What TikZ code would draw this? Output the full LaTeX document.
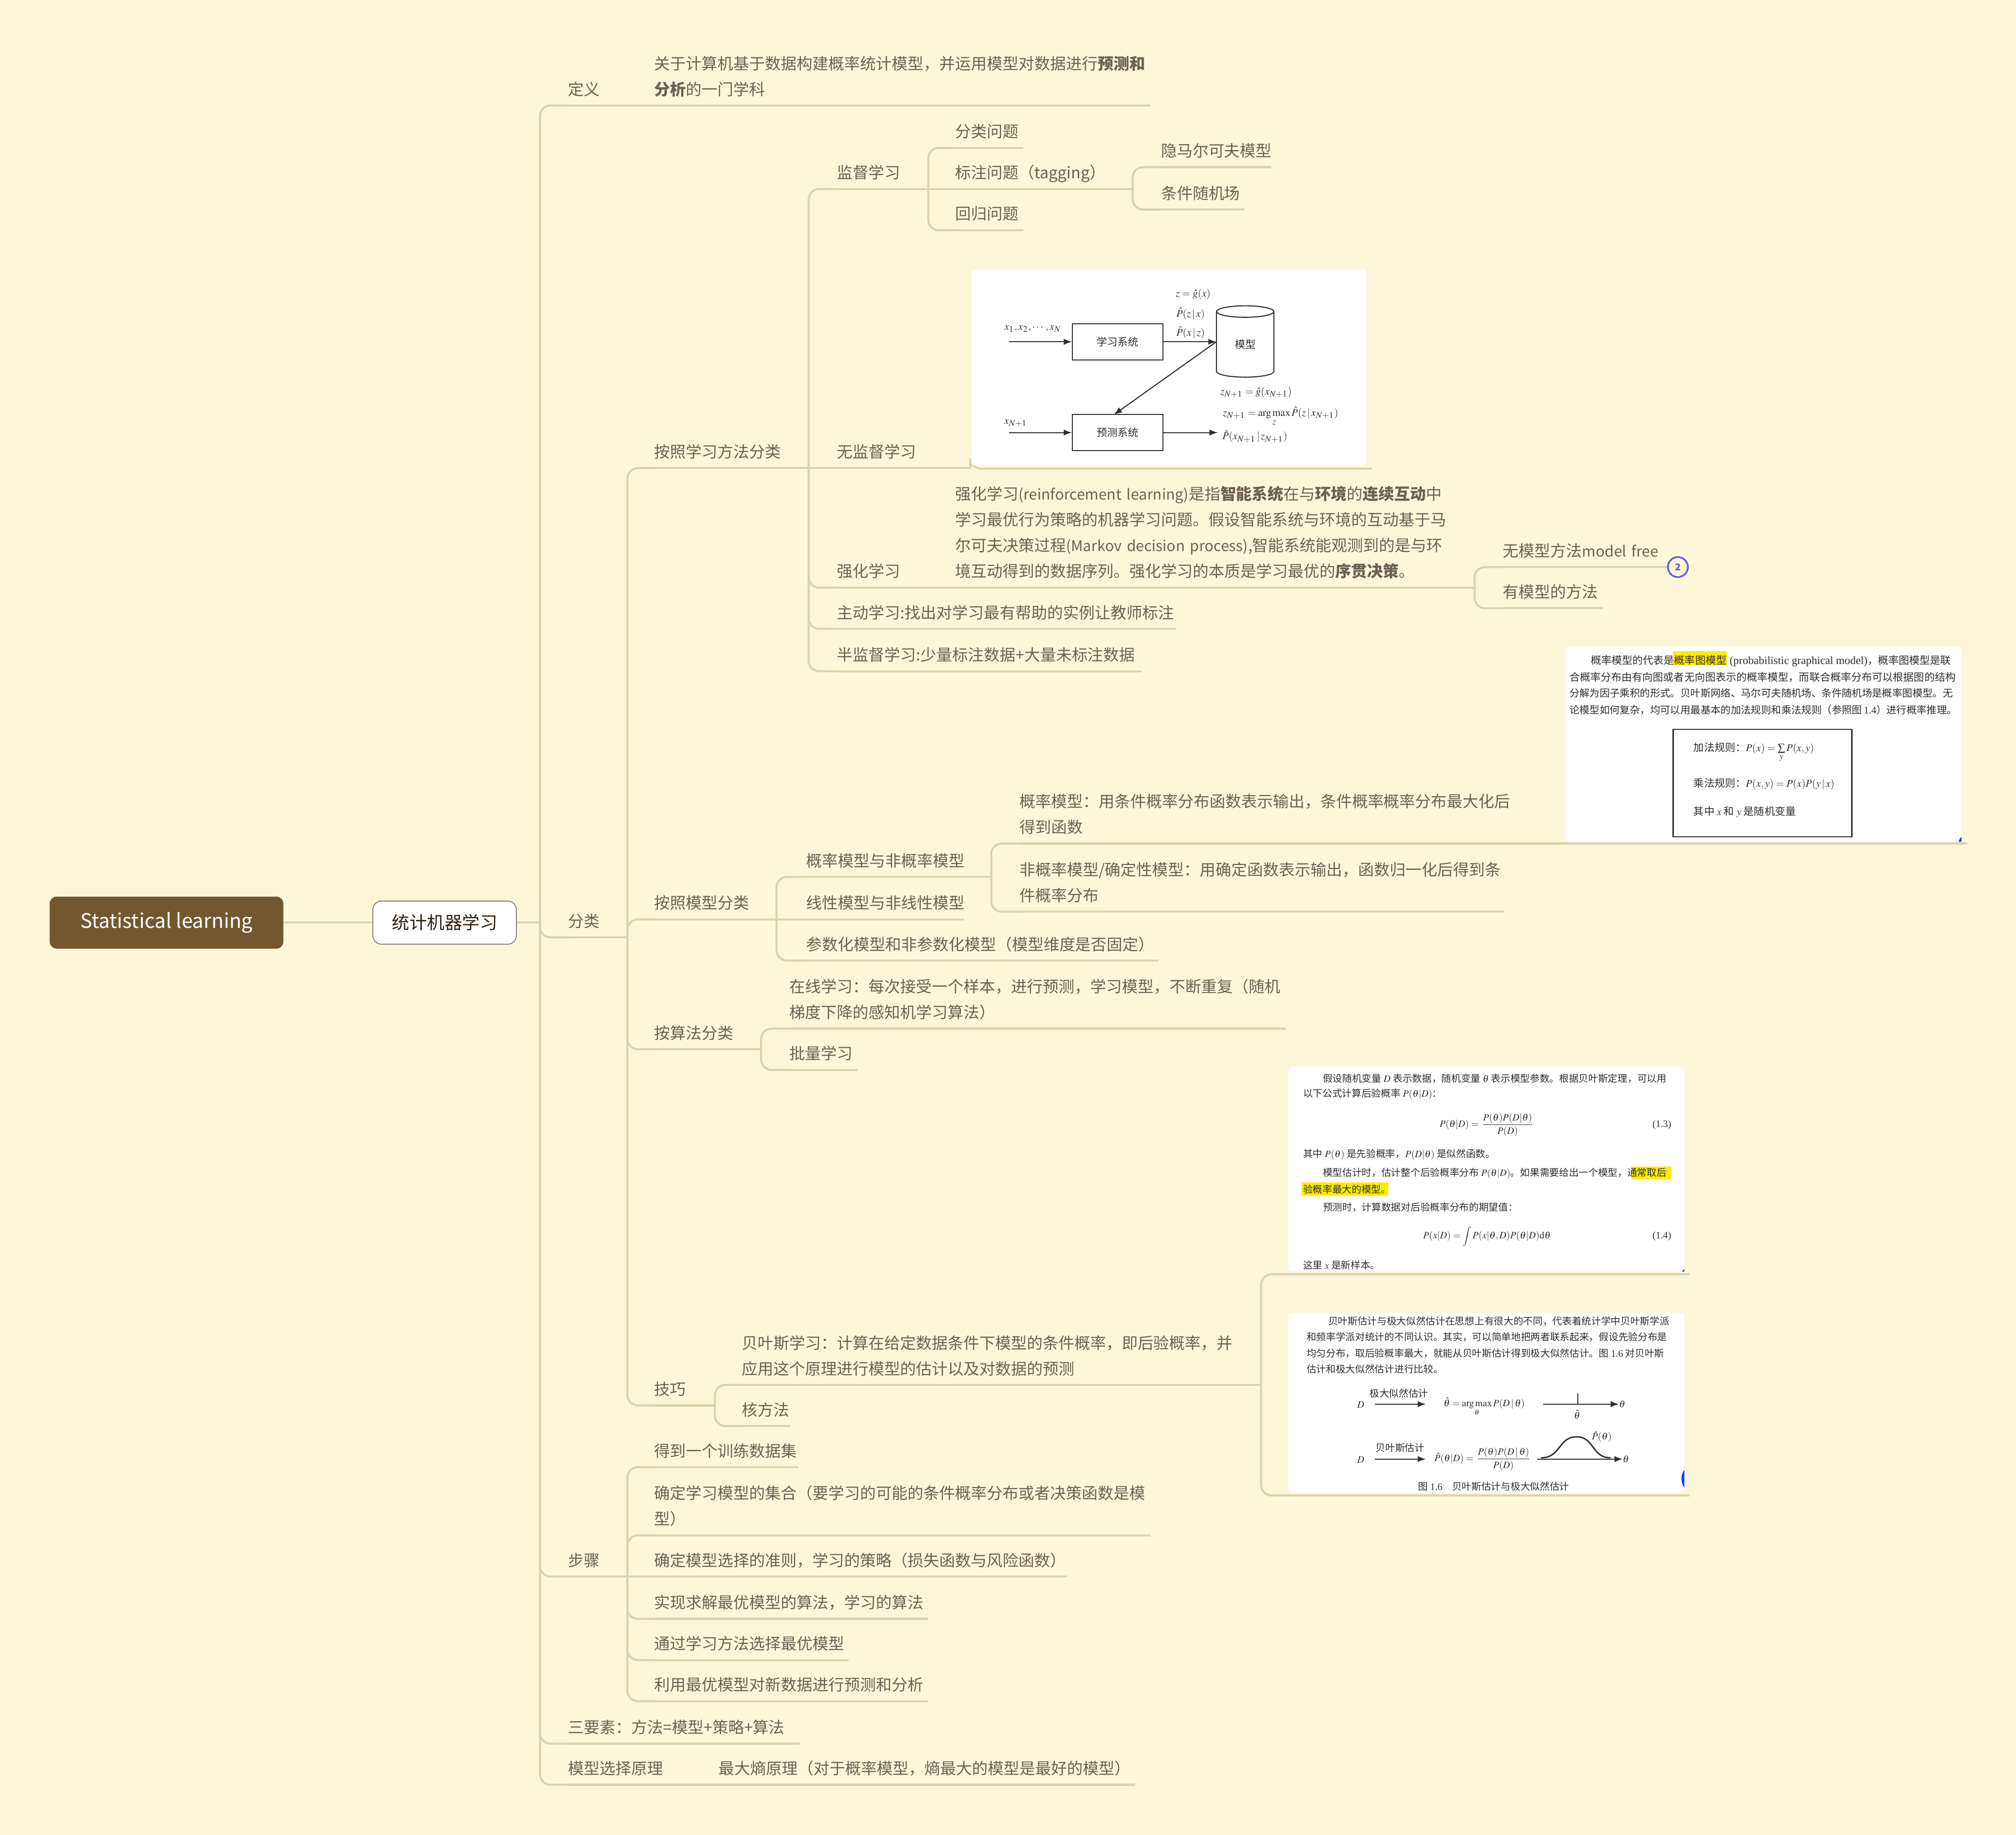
\documentclass[tikz,border=0pt]{standalone}
\usepackage{amsmath}
\usepackage{mathptmx}
\usepackage[no-math]{fontspec}
\setmainfont{Noto Sans CJK SC}
\newfontfamily\scanlatin{Liberation Serif}
\usetikzlibrary{shapes.geometric}
\tikzset{>=latex}
\definecolor{paper}{HTML}{FDF7DA}
\definecolor{branch}{HTML}{DDD3AE}
\definecolor{ink}{HTML}{6E6052}
\definecolor{rootfill}{HTML}{725730}
\definecolor{scanink}{HTML}{2E2E2E}
\definecolor{marker}{HTML}{FFEB00}
\definecolor{badgeblue}{HTML}{5F63E3}
\tikzstyle{link} = [draw=branch, line width=1.2pt, rounded corners=6pt]
\tikzstyle{topic} = [anchor=south west, inner xsep=0pt, inner ysep=1.5pt, outer sep=0pt, align=left, text=ink, font=\fontsize{9.1}{14.8}\selectfont]
\tikzstyle{inset} = [fill=white, rounded corners=2pt, inner sep=0pt]
\tikzstyle{scan} = [anchor=west, inner sep=0pt, text=scanink, font=\fontsize{6}{8}\selectfont]
\tikzstyle{scanmid} = [scan, anchor=center]
\tikzstyle{fine} = [scan, font=\fontsize{5.6}{8}\selectfont]
\tikzstyle{finemid} = [fine, anchor=center]
\tikzstyle{scanbox} = [draw=scanink, line width=0.6pt, inner sep=0pt, text=scanink, font=\fontsize{6}{8}\selectfont]
\tikzstyle{scanline} = [draw=scanink, line width=0.6pt, ->]
\newcommand{\topic}[5]{
\node[topic, text width={(#4-#2)*0.7387pt}] (#1) at (#2,#3) {#5\strut};
\draw[link] (#1.south west) -- (#1.south east);
}
\newcommand{\branch}[2]{
\draw[link] (#1.south east) |- (#2.south west);
}
\newcommand{\follow}[2]{
\draw[link] (#1.south east) -- (#2.south west);
}
\newcommand{\slim}[2]{{\fontsize{#1}{14.8}\selectfont #2}}
\newcommand{\corner}[4]{
\begin{scope}
\clip (#1) rectangle (#2);
\fill[blue!75!cyan] (#3) circle (#4);
\end{scope}
}

\begin{document}
\begin{tikzpicture}[x=0.02597cm, y=-0.02597cm]
	\useasboundingbox (0,0) rectangle (1568,1427);
	\fill[paper] (0,0) rectangle (1568,1427);
	
	% Centre
	\node[fill=rootfill, text=white, rounded corners=4pt, minimum width=134.3pt, minimum height=29.9pt, inner sep=0pt, font=\fontsize{11.5}{14}\selectfont] (root) at (129.5,717.5) {Statistical learning};
	\node[fill=white, draw=black!45, line width=0.6pt, rounded corners=5pt, minimum width=82.5pt, minimum height=24.8pt, inner sep=0pt, text=black!75!brown, font=\fontsize{10.1}{12}\selectfont] (subject) at (345.8,717.5) {统计机器学习};
	\coordinate (trunk) at (420,717.5);
	\draw[link] (root.east) -- (subject.west);
	\draw[link] (subject.east) -- (trunk);
	
	% Level one
	\topic{define}{442}{82}{509}{定义}
	\topic{kinds}{442}{729}{488}{分类}
	\topic{steps}{442}{1226}{488}{步骤}
	\topic{three}{442}{1356}{622}{三要素：方法=模型+策略+算法}
	\topic{choice}{442}{1388}{559}{模型选择原理}
	\draw[link] (trunk) |- (define.south west);
	\draw[link] (trunk) |- (kinds.south west);
	\draw[link] (trunk) |- (steps.south west);
	\draw[link] (trunk) |- (three.south west);
	\draw[link] (trunk) |- (choice.south west);
	\topic{defineText}{509}{82}{895}{关于计算机基于数据构建概率统计模型，并运用模型对数据进行\textbf{预测和}\\\textbf{分析}的一门学科}
	\topic{entropy}{559}{1388}{883}{最大熵原理（对于概率模型，熵最大的模型是最好的模型）}
	\follow{define}{defineText}
	\follow{choice}{entropy}
	
	% Kinds
	\topic{byMethod}{509}{364}{629}{按照学习方法分类}
	\topic{byModel}{509}{715}{604}{按照模型分类}
	\topic{byAlgo}{509}{816}{592}{按算法分类}
	\topic{skills}{509}{1093}{556}{技巧}
	\branch{kinds}{byMethod}
	\branch{kinds}{byModel}
	\branch{kinds}{byAlgo}
	\branch{kinds}{skills}
	
	% By method
	\topic{supervised}{651}{147}{722}{监督学习}
	\topic{unsupervised}{651}{364}{755}{无监督学习}
	\topic{reinforce}{651}{457}{743}{强化学习}
	\topic{active}{651}{489}{915}{主动学习:找出对学习最有帮助的实例让教师标注}
	\topic{semi}{651}{522}{888}{半监督学习:少量标注数据+大量未标注数据}
	\branch{byMethod}{supervised}
	\follow{byMethod}{unsupervised}
	\branch{byMethod}{reinforce}
	\branch{byMethod}{active}
	\branch{byMethod}{semi}
	\topic{classify}{743}{115}{796}{分类问题}
	\topic{tagging}{743}{147}{881}{标注问题（tagging）}
	\topic{regress}{743}{179}{796}{回归问题}
	\branch{supervised}{classify}
	\follow{supervised}{tagging}
	\branch{supervised}{regress}
	\topic{hmm}{903}{130}{989}{隐马尔可夫模型}
	\topic{crf}{903}{163}{968}{条件随机场}
	\branch{tagging}{hmm}
	\branch{tagging}{crf}
	\topic{reinforceText}{743}{457}{1147}{强化学习\slim{8.5}{(reinforcement learning)}是指\textbf{智能系统}在与\textbf{环境}的\textbf{连续互动}中\\学习最优行为策略的机器学习问题。假设智能系统与环境的互动基于马\\尔可夫决策过程\slim{8.5}{(Markov decision process)},智能系统能观测到的是与环\\境互动得到的数据序列。强化学习的本质是学习最优的\textbf{序贯决策}。}
	\follow{reinforce}{reinforceText}
	\topic{modelFree}{1169}{441}{1296}{无模型方法\slim{8.5}{model free}}
	\topic{modelBased}{1169}{473}{1247}{有模型的方法}
	\branch{reinforceText}{modelFree}
	\branch{reinforceText}{modelBased}
	\node[circle, draw=badgeblue, line width=1pt, fill=paper, text=badgeblue, minimum size=11.5pt, inner sep=0pt, font=\fontsize{5.5}{6}\bfseries\selectfont] (count) at (1305,441) {2};
	\draw[link] (modelFree.south east) -- (count.west);
	
	% By model
	\topic{probPair}{627}{682}{771}{概率模型与非概率模型}
	\topic{linePair}{627}{715}{750}{线性模型与非线性模型}
	\topic{paramPair}{627}{747}{901}{参数化模型和非参数化模型（模型维度是否固定）}
	\branch{byModel}{probPair}
	\follow{byModel}{linePair}
	\branch{byModel}{paramPair}
	\topic{probModel}{793}{656}{1530}{概率模型：用条件概率分布函数表示输出，条件概率概率分布最大化后\\得到函数}
	\topic{detModel}{793}{709}{1170}{非概率模型/确定性模型：用确定函数表示输出，函数归一化后得到条\\件概率分布}
	\branch{probPair}{probModel}
	\branch{probPair}{detModel}
	
	% By algorithm
	\topic{online}{614}{800}{1000}{在线学习：每次接受一个样本，进行预测，学习模型，不断重复（随机\\梯度下降的感知机学习算法）}
	\topic{batch}{614}{832}{667}{批量学习}
	\branch{byAlgo}{online}
	\branch{byAlgo}{batch}
	
	% Skills
	\topic{bayes}{577}{1077}{981}{贝叶斯学习：计算在给定数据条件下模型的条件概率，即后验概率，并\\应用这个原理进行模型的估计以及对数据的预测}
	\topic{kernel}{577}{1109}{615}{核方法}
	\branch{skills}{bayes}
	\branch{skills}{kernel}
	\coordinate (lineC) at (1002,991);
	\coordinate (lineCend) at (1314,991);
	\coordinate (lineD) at (1002,1163);
	\coordinate (lineDend) at (1314,1163);
	\draw[link] (bayes.south east) |- (lineC) -- (lineCend);
	\draw[link] (bayes.south east) |- (lineD) -- (lineDend);
	
	% Steps
	\topic{stepA}{509}{1141}{621}{得到一个训练数据集}
	\topic{stepB}{509}{1194}{895}{确定学习模型的集合（要学习的可能的条件概率分布或者决策函数是模\\型）}
	\topic{stepC}{509}{1226}{830}{确定模型选择的准则，学习的策略（损失函数与风险函数）}
	\topic{stepD}{509}{1259}{722}{实现求解最优模型的算法，学习的算法}
	\topic{stepE}{509}{1291}{660}{通过学习方法选择最优模型}
	\topic{stepF}{509}{1323}{722}{利用最优模型对新数据进行预测和分析}
	\branch{steps}{stepA}
	\branch{steps}{stepB}
	\follow{steps}{stepC}
	\branch{steps}{stepD}
	\branch{steps}{stepE}
	\branch{steps}{stepF}
	
	% Picture A: learning and prediction systems
	\coordinate (lineA) at (755,364.5);
	\coordinate (lineAend) at (1067,364.5);
	\draw[link] (unsupervised.south east) -- (lineA) -- (lineAend);
	\fill[inset] (755.5,209.5) rectangle (1063,362);
	\node[scanbox, minimum width=52pt, minimum height=20.7pt] (learner) at (869.2,265.8) {学习系统};
	\node[scanbox, minimum width=52pt, minimum height=20.7pt] (predictor) at (869.2,336.4) {预测系统};
	\node[cylinder, shape border rotate=90, aspect=0.55, draw=scanink, line width=0.6pt, minimum width=33pt, minimum height=41pt, inner sep=0pt, text=scanink, font=\fontsize{6}{8}\selectfont] (store) at (968.5,268) {模型};
	\coordinate (trainIn) at (784.6,265.8);
	\coordinate (testIn) at (784.6,336.4);
	\coordinate (testOut) at (947,336.4);
	\coordinate (storeIn) at (946,265.8);
	\draw[scanline] (trainIn) -- (learner.west);
	\draw[scanline] (learner.east) -- (storeIn);
	\draw[scanline] (storeIn) -- (866.5,322.4);
	\draw[scanline] (testIn) -- (predictor.west);
	\draw[scanline] (predictor.east) -- (testOut);
	\node[scanmid] (trainData) at (803.4,255.7) {$x_1,x_2,\cdots,x_N$};
	\node[scanmid] (eqG) at (928,229) {$z=\hat{g}(x)$};
	\node[scanmid] (eqPzx) at (926,244) {$\hat{P}(z\,|\,x)$};
	\node[scanmid] (eqPxz) at (926,258.6) {$\hat{P}(x\,|\,z)$};
	\node[scanmid] (eqNext) at (977,305) {$z_{N+1}=\hat{g}(x_{N+1})$};
	\node[scanmid] (eqMax) at (996,324) {$z_{N+1}=\mathop{\mathrm{arg\,max}}\limits_z \hat{P}(z\,|\,x_{N+1})$};
	\node[scanmid] (testData) at (790,329) {$x_{N+1}$};
	\node[scanmid] (eqOut) at (976,339.5) {$\hat{P}(x_{N+1}\,|\,z_{N+1})$};
	
	% Picture B: probabilistic graphical model
	\fill[inset] (1217.6,503) rectangle (1525.6,654.5);
	\corner{1490,630}{1525.6,654.5}{1530,656}{5pt}
	\fill[marker] (1301.3,506.3) rectangle (1343.1,517.2);
	\node[scan] (bLineA) at (1237,514) {概率模型的代表是概率图模型\hspace{0.3em}{\scanlatin\fontsize{6.4}{8}\selectfont (probabilistic graphical model)}，概率图模型是联};
	\node[scan] (bLineB) at (1220.4,526.5) {合概率分布由有向图或者无向图表示的概率模型，而联合概率分布可以根据图的结构};
	\node[scan, font=\fontsize{5.8}{8}\selectfont] (bLineC) at (1220.4,539) {分解为因子乘积的形式。贝叶斯网络、马尔可夫随机场、条件随机场是概率图模型。无};
	\node[scan, font=\fontsize{5.8}{8}\selectfont] (bLineD) at (1220.4,552) {论模型如何复杂，均可以用最基本的加法规则和乘法规则（参照图\,{\scanlatin 1.4}）进行概率推理。};
	\draw[scanink, line width=0.7pt] (1301.3,567.3) rectangle (1440.3,650.7);
	\node[scan] (sumRule) at (1317,585) {加法规则：$P(x)=\sum\limits_y P(x,y)$};
	\node[scan] (mulRule) at (1317,609.7) {乘法规则：$P(x,y)=P(x)P(y\,|\,x)$};
	\node[scan] (ruleNote) at (1317,631.5) {其中 $x$ 和 $y$ 是随机变量};
	
	% Picture C: posterior probability
	\fill[inset] (1002,830) rectangle (1310,988.5);
	\corner{1280,965}{1310,988.5}{1320,998}{11pt}
	\fill[marker] (1268.9,907.2) rectangle (1300.1,917.4);
	\fill[marker] (1012.2,919.7) rectangle (1079.8,930);
	\node[fine] (cLineA) at (1028.7,838.8) {假设随机变量 $D$ 表示数据，随机变量 $\theta$ 表示模型参数。根据贝叶斯定理，可以用};
	\node[fine] (cLineB) at (1013.3,851) {以下公式计算后验概率 $P(\theta|D)$：};
	\node[finemid] (eqPost) at (1156.5,874.8) {$P(\theta|D)=\dfrac{P(\theta)P(D|\theta)}{P(D)}$};
	\node[fine, anchor=east] (tagA) at (1300.1,874.8) {\scanlatin (1.3)};
	\node[fine] (cLineC) at (1013.3,897.9) {其中 $P(\theta)$ 是先验概率，$P(D|\theta)$ 是似然函数。};
	\node[fine] (cLineD) at (1028.7,912.6) {模型估计时，估计整个后验概率分布 $P(\theta|D)$。如果需要给出一个模型，通常取后};
	\node[fine] (cLineE) at (1013.3,924.8) {验概率最大的模型。};
	\node[fine] (cLineF) at (1028.7,938.9) {预测时，计算数据对后验概率分布的期望值：};
	\node[finemid] (eqPred) at (1156.5,961.4) {$P(x|D)=\displaystyle\int P(x|\theta,D)P(\theta|D)\mathrm{d}\theta$};
	\node[fine, anchor=east] (tagB) at (1300.1,961.4) {\scanlatin (1.4)};
	\node[fine] (cLineG) at (1013.3,983.9) {这里 $x$ 是新样本。};
	
	% Picture D: Bayes against maximum likelihood
	\fill[inset] (1002,1021) rectangle (1310,1160.5);
	\corner{1280,1120}{1310,1160.5}{1320,1150}{9pt}
	\node[fine] (dLineA) at (1032.9,1027.5) {贝叶斯估计与极大似然估计在思想上有很大的不同，代表着统计学中贝叶斯学派};
	\node[fine] (dLineB) at (1016,1039.7) {和频率学派对统计的不同认识。其实，可以简单地把两者联系起来，假设先验分布是};
	\node[fine] (dLineC) at (1016,1052.3) {均匀分布，取后验概率最大，就能从贝叶斯估计得到极大似然估计。图 {\scanlatin 1.6} 对贝叶斯};
	\node[fine] (dLineD) at (1016,1064.7) {估计和极大似然估计进行比较。};
	\node[finemid] (dataA) at (1058.3,1092.3) {$D$};
	\node[finemid] (dataB) at (1058.3,1135.3) {$D$};
	\coordinate (mleFrom) at (1069.4,1092);
	\coordinate (mleTo) at (1108.9,1092);
	\coordinate (mapFrom) at (1069.4,1134.7);
	\coordinate (mapTo) at (1108.9,1134.7);
	\draw[scanline] (mleFrom) -- (mleTo);
	\draw[scanline] (mapFrom) -- (mapTo);
	\node[finemid] (mleName) at (1088,1083.4) {极大似然估计};
	\node[finemid] (mapName) at (1089,1126) {贝叶斯估计};
	\node[finemid] (eqMle) at (1154.4,1094) {$\hat{\theta}=\mathop{\mathrm{arg\,max}}\limits_\theta P(D\,|\,\theta)$};
	\node[finemid] (eqMap) at (1153.3,1134.7) {$\hat{P}(\theta|D)=\dfrac{P(\theta)P(D\,|\,\theta)}{P(D)}$};
	\coordinate (axisAfrom) at (1200.4,1092);
	\coordinate (axisBfrom) at (1195.6,1134.7);
	\node[finemid] (thetaA) at (1261.7,1092) {$\theta$};
	\node[finemid] (thetaB) at (1264.6,1134.7) {$\theta$};
	\node[finemid] (thetaHat) at (1226.6,1100) {$\hat{\theta}$};
	\node[finemid] (pHat) at (1245.8,1117.4) {$\hat{P}(\theta)$};
	\draw[scanline] (axisAfrom) -- (thetaA.west);
	\draw[scanline] (axisBfrom) -- (thetaB.west);
	\draw[scanink, line width=0.5pt] (1227.2,1083.4) -- (1227.2,1092);
	\draw[scanink, line width=0.8pt] (1198.7,1133.7) .. controls (1214,1133.7) and (1212,1117.4) .. (1226.2,1117.4) .. controls (1240,1117.4) and (1238,1133.7) .. (1252.6,1133.7);
	\node[finemid] (caption) at (1161.8,1155.9) {图 {\scanlatin 1.6}\quad 贝叶斯估计与极大似然估计};
\end{tikzpicture}
\end{document}
